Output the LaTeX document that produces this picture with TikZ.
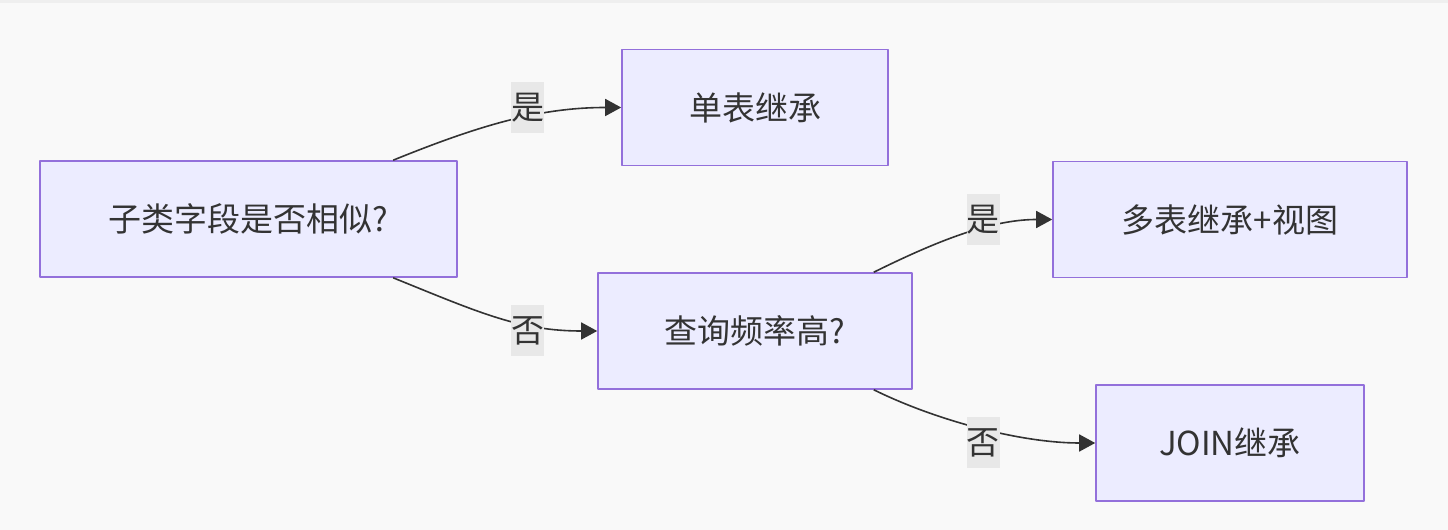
\documentclass[tikz,border=0pt]{standalone}
\usepackage{fontspec}
\setmainfont{Noto Sans CJK SC}
\usetikzlibrary{arrows.meta}
\definecolor{bgcol}{HTML}{F9F9F9}
\definecolor{topcol}{HTML}{EFEFEF}
\definecolor{boxfill}{HTML}{ECECFF}
\definecolor{boxline}{HTML}{9370DB}
\definecolor{txtcol}{HTML}{333333}
\definecolor{lblfill}{HTML}{E8E8E8}
\tikzset{
  flownode/.style={draw=boxline,fill=boxfill,line width=1.6bp,minimum height=116bp,
    inner sep=0pt,text=txtcol,font=\fontsize{33bp}{39bp}\selectfont},
  edgelabel/.style={fill=lblfill,inner sep=0pt,minimum width=33bp,minimum height=51bp,
    text=txtcol,font=\fontsize{33bp}{39bp}\selectfont},
}
\begin{document}
\begin{tikzpicture}[>={Triangle[length=16bp,width=17bp]},line join=bevel,]
\useasboundingbox (0bp,0bp) rectangle (1448bp,530bp);
\fill [bgcol] (0bp,0bp) rectangle (1448bp,530bp);
\fill [topcol] (0bp,527bp) rectangle (1448bp,530bp);
%%
\node (node_0) at (248.5bp,311bp) [flownode,minimum width=417bp] {子类字段是否相似?};
  \node (node_1) at (755bp,422.5bp) [flownode,minimum width=266bp] {单表继承};
  \node (node_2) at (755bp,199bp) [flownode,minimum width=314bp] {查询频率高?};
  \node (node_3) at (1230bp,310.5bp) [flownode,minimum width=354bp] {多表继承+视图};
  \node (node_4) at (1230bp,87bp) [flownode,minimum width=268bp] {JOIN继承};
  \draw [txtcol,line width=1.6bp,->] (node_0) ..controls (480bp,405bp) and (540bp,422.5bp)  .. (node_1);
  \draw [txtcol,line width=1.6bp,->] (node_0) ..controls (480bp,217bp) and (520bp,199bp)  .. (node_2);
  \draw [txtcol,line width=1.6bp,->] (node_2) ..controls (935bp,288bp) and (990bp,310.5bp)  .. (node_3);
  \draw [txtcol,line width=1.6bp,->] (node_2) ..controls (935bp,110bp) and (1020bp,87bp)  .. (node_4);
  \node (label_0) at (527.5bp,422bp) [edgelabel] {是};
  \node (label_1) at (527.5bp,199bp) [edgelabel] {否};
  \node (label_2) at (983bp,310.5bp) [edgelabel] {是};
  \node (label_3) at (983bp,87bp) [edgelabel] {否};
%
\end{tikzpicture}
\end{document}
